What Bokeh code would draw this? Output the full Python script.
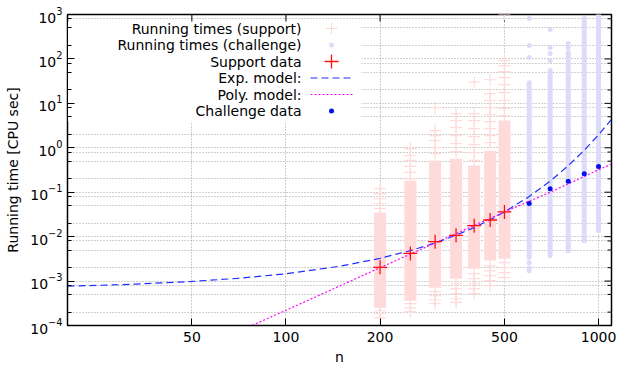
import math
from bokeh.plotting import figure
from bokeh.models import FixedTicker, Label, Range1d
from bokeh.embed import file_html
from bokeh.resources import INLINE

# ---------------- data (CPU seconds) ----------------
support_n = [200, 250, 300, 350, 400, 450, 500]
challenge_n = [600, 700, 800, 900, 1000]

# dense part of each run-time cloud (low / high)
support_band_lo = [2.5e-4, 3.6e-4, 7.1e-4, 1.13e-3, 1.9e-3, 2.9e-3, 3.2e-3]
support_band_hi = [0.035, 0.18, 0.515, 0.57, 0.40, 0.86, 4.1]
challenge_band_lo = [3.4e-3, 3.7e-3, 4.8e-3, 8.1e-3, 0.0136]
challenge_band_hi = [29, 55, 139, 813, 1000]

# isolated runs outside the dense part
support_runs_200 = [0.12, 0.093, 0.072, 0.055, 0.043, 2.15e-4, 1.85e-4, 1.5e-4]
support_runs_250 = [0.96, 0.67, 0.52, 0.38, 0.28, 0.20, 3.1e-4, 2.5e-4, 2.05e-4]
support_runs_300 = [8.0, 2.44, 1.88, 1.45, 1.01, 0.74, 5.8e-4, 4.7e-4, 3.8e-4, 3.1e-4]
support_runs_350 = [5.9, 4.1, 2.85, 1.88, 1.24, 0.82, 8.7e-4, 6.7e-4, 5.2e-4, 4.0e-4, 3.3e-4]
support_runs_400 = [30, 5.9, 4.1, 2.7, 1.79, 1.18, 0.78, 0.52, 1.47e-3, 1.13e-3, 8.7e-4, 6.7e-4, 5.2e-4]
support_runs_450 = [34, 16.6, 11.6, 8.0, 5.6, 3.9, 2.7, 1.88, 1.31, 2.2e-3, 1.7e-3, 1.32e-3, 1.02e-3, 7.9e-4]
support_runs_500 = [1000, 92, 71, 52, 38, 26.5, 17.5, 11.6, 7.6, 5.3, 2.6e-3, 2.0e-3, 1.55e-3, 1.19e-3]
challenge_runs_600 = [813, 200, 108, 2.6e-3, 2.0e-3, 1.7e-3]
challenge_runs_700 = [459, 181, 132, 92]
challenge_runs_800 = [222, 181]

# summary points
support_data = [2.04e-3, 4.2e-3, 7.7e-3, 1.07e-2, 1.77e-2, 2.37e-2, 3.6e-2]
challenge_data = [0.056, 0.12, 0.176, 0.26, 0.38]

# fitted models
exp_model_n = [20, 30, 50, 70, 100, 150, 200, 250, 300, 350, 400, 450, 500,
               600, 700, 800, 900, 1000, 1100]
exp_model_t = [7.7e-4, 8.3e-4, 9.8e-4, 1.15e-3, 1.46e-3, 2.18e-3, 3.25e-3, 4.85e-3,
               7.2e-3, 1.08e-2, 1.6e-2, 2.4e-2, 3.6e-2, 8.0e-2, 0.178, 0.395, 0.88,
               1.96, 4.35]
poly_model_n = [70, 100, 200, 300, 500, 700, 1000, 1100]
poly_model_t = [7.2e-5, 2.2e-4, 2.0e-3, 7.2e-3, 3.6e-2, 0.10, 0.32, 0.43]

x_ticks = [50, 100, 200, 500, 1000]
y_ticks = [1e-4, 1e-3, 1e-2, 1e-1, 1e0, 1e1, 1e2, 1e3]
y_minor_mult = [2, 5, 8]

legend_labels = ["Running times (support)", "Running times (challenge)", "Support data",
                 "Exp. model:", "Poly. model:", "Challenge data"]

# ---------------- styling ----------------
FONT = "DejaVu Sans"
W, H = 620, 372
LEFT, RIGHT, TOP, BOTTOM = 67, 9, 14, 47
X_MIN, X_MAX = 20, 1100
Y_MIN, Y_MAX = 1e-4, 1e3

SUP_LIGHT = "#ffdada"
CHAL_LIGHT = "#dcdcfa"
SUP_DARK = "#ff1010"
CHAL_DARK = "#0010ee"
EXP_COL = "#2030ff"
POLY_COL = "#ff00ff"
GRID_COL = "#a0a0a0"


def frame_x(px):
    """canvas pixel column -> data value on the log x axis"""
    fw = W - LEFT - RIGHT
    lo, hi = math.log10(X_MIN), math.log10(X_MAX)
    return 10 ** (lo + (px - LEFT) / fw * (hi - lo))


def frame_y(py):
    """canvas pixel row -> data value on the log y axis"""
    fh = H - TOP - BOTTOM
    lo, hi = math.log10(Y_MIN), math.log10(Y_MAX)
    return 10 ** (hi - (py - TOP) / fh * (hi - lo))


p = figure(width=W, height=H, x_axis_type="log", y_axis_type="log",
           x_range=Range1d(X_MIN, X_MAX), y_range=Range1d(Y_MIN, Y_MAX),
           output_backend="svg", toolbar_location=None,
           min_border_left=LEFT, min_border_right=RIGHT,
           min_border_top=TOP, min_border_bottom=BOTTOM)
p.background_fill_color = "white"
p.border_fill_color = "white"
p.outline_line_color = "black"
p.outline_line_width = 1.5

y_minor = [m * t for t in y_ticks[:-1] for m in y_minor_mult]
xt = FixedTicker(ticks=x_ticks, minor_ticks=[])
yt = FixedTicker(ticks=y_ticks, minor_ticks=y_minor)

for ax in (p.xaxis[0], p.yaxis[0]):
    ax.major_label_text_font = FONT
    ax.major_label_text_font_size = "14px"
    ax.major_label_text_color = "black"
    ax.axis_label_text_font = FONT
    ax.axis_label_text_font_size = "14px"
    ax.axis_label_text_font_style = "normal"
    ax.axis_label_text_color = "black"
    ax.major_tick_in = 7
    ax.major_tick_out = 0
    ax.minor_tick_in = 4
    ax.minor_tick_out = 0
    ax.axis_line_color = "black"
    ax.major_tick_line_color = "black"
    ax.minor_tick_line_color = "black"

p.xaxis.ticker = xt
p.yaxis.ticker = yt
p.xaxis.major_label_overrides = {t: str(t) for t in x_ticks}
p.xaxis.axis_label = "n"
p.yaxis.axis_label = "Running time [CPU sec]"
p.xaxis.major_label_standoff = 6
p.yaxis.major_label_standoff = 5
p.xaxis.axis_label_standoff = 4
p.yaxis.axis_label_standoff = 6

p.xgrid.ticker = xt
p.ygrid.ticker = yt
p.xgrid.grid_line_color = GRID_COL
p.xgrid.grid_line_dash = "1 2"
p.ygrid.grid_line_color = GRID_COL
p.ygrid.grid_line_dash = "1 2"
p.ygrid.minor_grid_line_color = GRID_COL
p.ygrid.minor_grid_line_dash = "1 2"

# opaque key box
p.quad(left=[X_MIN], right=[frame_x(361)], bottom=[frame_y(121)], top=[frame_y(21)],
       fill_color="white", line_color=None)

# mirrored tick marks on the top and right frame edges
p.segment(x0=x_ticks, y0=[Y_MAX] * len(x_ticks), x1=x_ticks,
          y1=[frame_y(TOP + 7)] * len(x_ticks), line_color="black", line_width=1)
p.segment(x0=[X_MAX] * len(y_ticks), y0=y_ticks, x1=[frame_x(W - RIGHT - 7)] * len(y_ticks),
          y1=y_ticks, line_color="black", line_width=1)
p.segment(x0=[X_MAX] * len(y_minor), y0=y_minor, x1=[frame_x(W - RIGHT - 4)] * len(y_minor),
          y1=y_minor, line_color="black", line_width=1)

# run-time clouds: support sizes
p.segment(x0=support_n, y0=support_band_lo, x1=support_n, y1=support_band_hi,
          line_width=12, line_color=SUP_LIGHT, line_cap="butt")
support_runs = [support_runs_200, support_runs_250, support_runs_300, support_runs_350,
                support_runs_400, support_runs_450, support_runs_500]
sx, sy = [], []
for n, runs in zip(support_n, support_runs):
    sx += [n] * len(runs)
    sy += runs
p.scatter(sx, sy, marker="cross", size=12, line_color=SUP_LIGHT, line_width=1.2)

# run-time clouds: challenge sizes
p.segment(x0=challenge_n, y0=challenge_band_lo, x1=challenge_n, y1=challenge_band_hi,
          line_width=5, line_color=CHAL_LIGHT, line_cap="round")
challenge_runs = [challenge_runs_600, challenge_runs_700, challenge_runs_800]
cx, cy = [], []
for n, runs in zip(challenge_n, challenge_runs):
    cx += [n] * len(runs)
    cy += runs
p.scatter(cx, cy, marker="circle", size=5, fill_color=CHAL_LIGHT, line_color=None)

# models
p.line(exp_model_n, exp_model_t, line_color=EXP_COL, line_width=1.2, line_dash="7 4")
p.line(poly_model_n, poly_model_t, line_color=POLY_COL, line_width=1.2, line_dash="2 2")

# summary points
p.scatter(support_n, support_data, marker="cross", size=14, line_color=SUP_DARK, line_width=1.3)
p.scatter(challenge_n, challenge_data, marker="circle", size=5, fill_color=CHAL_DARK,
          line_color=None)

# key
rows = [28, 44.5, 61, 77.5, 94, 110.5]
for label, row in zip(legend_labels, rows):
    p.add_layout(Label(x=frame_x(301), y=frame_y(row), text=label, text_align="right",
                       text_baseline="middle", text_font=FONT, text_font_size="14px",
                       text_color="black"))
kx = frame_x(331)
p.scatter([kx], [frame_y(rows[0])], marker="cross", size=12, line_color=SUP_LIGHT, line_width=1.2)
p.scatter([kx], [frame_y(rows[1])], marker="circle", size=5, fill_color=CHAL_LIGHT, line_color=None)
p.scatter([kx], [frame_y(rows[2])], marker="cross", size=14, line_color=SUP_DARK, line_width=1.3)
p.line([frame_x(310), frame_x(352)], [frame_y(rows[3])] * 2, line_color=EXP_COL,
       line_width=1.2, line_dash="7 4")
p.line([frame_x(310), frame_x(352)], [frame_y(rows[4])] * 2, line_color=POLY_COL,
       line_width=1.2, line_dash="2 2")
p.scatter([kx], [frame_y(rows[5])], marker="circle", size=5, fill_color=CHAL_DARK, line_color=None)

open("out.html", "w").write(file_html(p, INLINE))
